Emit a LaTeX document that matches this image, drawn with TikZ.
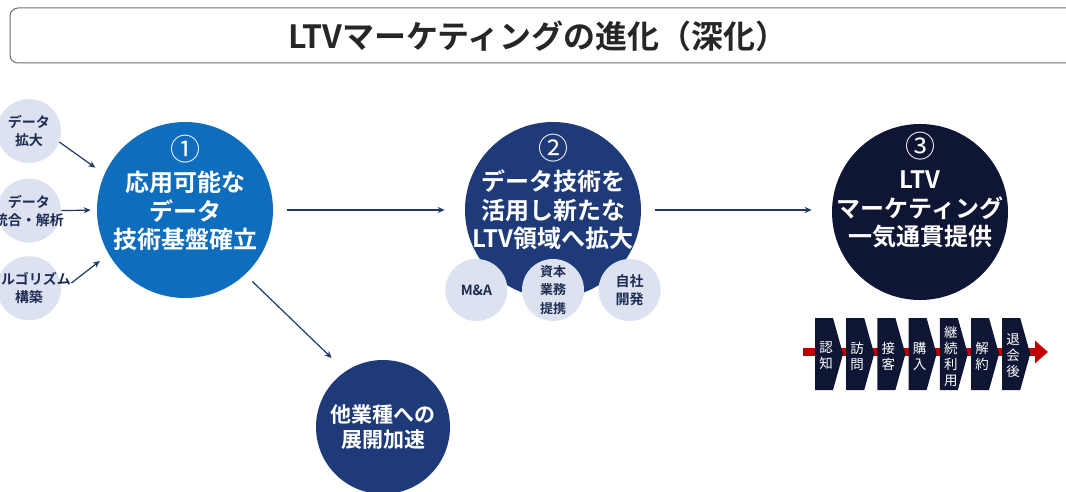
\documentclass[tikz,border=0pt]{standalone}
\usepackage{fontspec}
\setmainfont{Noto Sans CJK JP}[BoldFont=* Bold]
\usetikzlibrary{arrows.meta,positioning}
\definecolor{ltvblue}{HTML}{0F6DBE}
\definecolor{ltvnavy}{HTML}{1F3A78}
\definecolor{ltvdark}{HTML}{0E1634}
\definecolor{ltvpale}{HTML}{DCE2EF}
\definecolor{ltvline}{HTML}{1F3864}
\definecolor{ltvtext}{HTML}{1F2D55}
\definecolor{ltvred}{HTML}{C00000}
\definecolor{ltvgray}{HTML}{6E6E6E}
\newcommand{\circnum}[1]{{\mdseries\fontsize{30}{30}\selectfont #1}\\[3pt]}

\begin{document}
\begin{tikzpicture}[x=1pt,y=-1pt,>={Stealth[length=7pt,width=6pt]},
                    semithick]
\tikzstyle{big}=[circle,minimum size=176pt,inner sep=0pt,draw=none]
\tikzstyle{small}=[circle,fill=ltvpale,minimum size=64pt,inner sep=0pt]
\tikzstyle{smalltext}=[text=ltvtext,font=\bfseries\fontsize{14}{18}\selectfont,align=center]
\tikzstyle{bigtext}=[text=white,font=\bfseries\fontsize{24}{28.5}\selectfont,align=center]
\tikzstyle{flow}=[->,draw=ltvline,line width=1.2pt]
\tikzstyle{stagetext}=[text=white,font=\fontsize{13.5}{16}\selectfont,align=center,inner sep=0pt]

\path[use as bounding box] (0,0) rectangle (1066,492);
\clip (0,0) rectangle (1066,492);

% title
\node[draw=ltvgray,rounded corners=8pt,minimum width=1070pt,minimum height=55pt,line width=1pt] (titlebox) at (545,35.5) {};
\node[text=black!85,font=\bfseries\fontsize{32}{36}\selectfont] (title) at (538,36) {LTVマーケティングの進化（深化）};

% inputs
\node[small,label={[smalltext]center:データ\\拡大}] (d1) at (29,131) {};
\node[small,below=15pt of d1,label={[smalltext]center:データ\\統合・解析}] (d2) {};
\node[small,below=13pt of d2,label={[smalltext]center:アルゴリズム\\構築}] (d3) {};

% stages
\node[big,fill=ltvblue,label={[bigtext,yshift=17pt]center:\circnum{①}応用可能な\\データ\\技術基盤確立}] (c1) at (185,210) {};
\node[big,fill=ltvnavy,label={[bigtext,yshift=18pt]center:\circnum{②}データ技術を\\活用し新たな\\LTV領域へ拡大}] (c2) at (553,210) {};
\node[big,fill=ltvdark,label={[bigtext,yshift=22pt]center:\circnum{③}LTV\\マーケティング\\一気通貫提供}] (c3) at (920,212) {};
\node[circle,fill=ltvnavy,minimum size=134pt,inner sep=0pt,
      label={[text=white,font=\bfseries\fontsize{21}{25}\selectfont,align=center]center:他業種への\\展開加速}] (c4) at (383,427) {};

% means
\node[small,minimum size=62pt,label={[smalltext,font=\bfseries\fontsize{13}{18.5}\selectfont]center:資本\\業務\\提携}] (m2) at (553,290) {};
\node[small,minimum size=62pt,left=14pt of m2,label={[smalltext]center:M\&A}] (m1) {};
\node[small,minimum size=62pt,right=14pt of m2,label={[smalltext]center:自社\\開発}] (m3) {};

\path (d1.-20) edge[flow,shorten >=11pt] (c1.156)
      (d2.east) edge[flow,shorten >=6pt] (c1.west)
      (d3.-5) edge[flow,shorten <=13pt,shorten >=11pt] (c1.210)
      (c1.east) edge[flow,shorten <=14pt,shorten >=20pt] (c2.west)
      (c2.east) edge[flow,shorten <=14pt,shorten >=20pt] (c2.east -| c3.west)
      (c1.-47) edge[flow,shorten <=10pt,shorten >=19pt] (c4.124);

% customer journey
\coordinate (redstart) at (803,352);
\coordinate (redend) at (1048,352);
\draw[ltvred,line width=8pt,-{Triangle[length=13pt,width=22pt]}] (redstart) -- (redend);
\foreach \lbl [count=\i from 0] in {{認\\知},{訪\\問},{接\\客},{購\\入},{継\\続\\利\\用},{解\\約},{退\\会\\後}}{
  \fill[ltvdark] (815+31.2*\i,318) -- ++(18,0) -- ++(10,36) -- ++(-10,36) -- ++(-18,0) -- cycle;
  \node[stagetext] (s\i) at (826+31.2*\i,356) {\lbl};
}
\end{tikzpicture}
\end{document}
